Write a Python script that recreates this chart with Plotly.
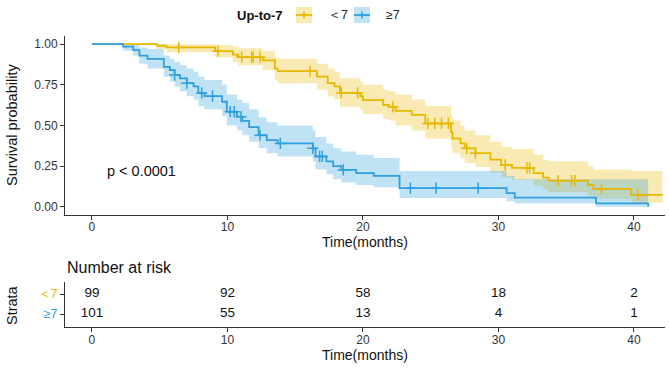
import plotly.graph_objects as go

W, H = 669, 368
FONT = "Liberation Sans, Arial, sans-serif"
YEL = "#E7B800"
BLU = "#2E9FDF"
YEL_FILL = "rgba(231,184,0,0.3)"
BLU_FILL = "rgba(46,159,223,0.3)"

# ---------------- data ----------------
group_labels = ["＜7", "≥7"]
legend_title = "Up-to-7"

# <7 group: step times, survival, CI upper, CI lower
yel_t  = [0, 4.8, 5.5, 9.1, 10.4, 10.8, 12.6, 13.5, 13.7, 16.6, 17.4, 17.9, 18.3, 19.8, 20.0, 21.5, 21.9, 22.4,
          23.6, 24.6, 26.5, 26.6, 27.2, 27.5, 28.3, 29.4, 30.2, 31.0, 32.6, 33.3, 33.7, 36.6, 37.0, 39.8, 42.1]
yel_s  = [1.0, 0.99, 0.98, 0.957, 0.935, 0.92, 0.90, 0.85, 0.834, 0.80, 0.76, 0.74, 0.70, 0.68, 0.656, 0.626, 0.615, 0.59,
          0.565, 0.513, 0.46, 0.42, 0.39, 0.36, 0.33, 0.29, 0.258, 0.24, 0.207, 0.18, 0.161, 0.135, 0.11, 0.074, 0.074]
yel_hi = [1.0, 1.0, 1.0, 0.995, 0.985, 0.975, 0.96, 0.92, 0.91, 0.88, 0.85, 0.83, 0.79, 0.77, 0.75, 0.72, 0.71, 0.69,
          0.66, 0.62, 0.565, 0.53, 0.50, 0.47, 0.44, 0.40, 0.37, 0.355, 0.32, 0.29, 0.28, 0.25, 0.23, 0.22, 0.22]
yel_lo = [1.0, 0.97, 0.95, 0.92, 0.89, 0.87, 0.84, 0.78, 0.76, 0.72, 0.68, 0.66, 0.615, 0.595, 0.57, 0.54, 0.53, 0.50,
          0.47, 0.42, 0.37, 0.33, 0.30, 0.27, 0.245, 0.21, 0.18, 0.165, 0.13, 0.11, 0.09, 0.07, 0.05, 0.025, 0.025]
yel_cens = [6.4, 9.3, 11.05, 11.8, 11.9, 12.4, 16.1, 18.4, 19.6, 22.2, 24.8, 25.3, 25.8, 26.3, 27.65, 28.3,
            30.5, 32.1, 32.3, 34.4, 35.4, 35.65, 37.6, 40.3]

# >=7 group
blu_t  = [0, 2.3, 3.05, 3.5, 4.1, 5.3, 5.75, 6.1, 6.5, 7.0, 7.5, 7.85, 8.3, 9.6, 9.95, 10.7, 11.1, 11.6, 12.3,
          12.9, 13.7, 16.3, 16.5, 17.3, 17.8, 18.4, 19.5, 20.8, 22.7, 30.6, 31.2, 37.2, 41.05]
blu_s  = [1.0, 0.985, 0.963, 0.93, 0.91, 0.86, 0.84, 0.81, 0.79, 0.76, 0.74, 0.70, 0.68, 0.646, 0.585, 0.554, 0.528,
          0.49, 0.44, 0.41, 0.39, 0.36, 0.31, 0.28, 0.25, 0.227, 0.207, 0.19, 0.115, 0.084, 0.057, 0.022, 0.0]
blu_hi = [1.0, 1.0, 1.0, 0.98, 0.97, 0.93, 0.91, 0.89, 0.87, 0.85, 0.83, 0.80, 0.78, 0.75, 0.69, 0.66, 0.64,
          0.60, 0.55, 0.52, 0.50, 0.47, 0.43, 0.39, 0.36, 0.34, 0.32, 0.30, 0.22, 0.19, 0.17, 0.17, 0.17]
blu_lo = [1.0, 0.96, 0.93, 0.88, 0.85, 0.80, 0.77, 0.74, 0.71, 0.68, 0.66, 0.62, 0.60, 0.56, 0.50, 0.47, 0.44,
          0.40, 0.36, 0.33, 0.31, 0.28, 0.23, 0.20, 0.17, 0.15, 0.135, 0.12, 0.055, 0.035, 0.02, 0.0, 0.0]
blu_cens = [6.1, 7.0, 8.1, 8.9, 10.2, 10.5, 11.0, 12.4, 13.9, 16.3, 16.8, 17.0, 18.55, 23.5, 25.4, 28.5]

risk_times = [0, 10, 20, 30, 40]
yel_risk = [99, 92, 58, 18, 2]
blu_risk = [101, 55, 13, 4, 1]

x_ticks = [0, 10, 20, 30, 40]
y_ticks = [0, 0.25, 0.5, 0.75, 1.0]
y_ticktext = ["0.00", "0.25", "0.50", "0.75", "1.00"]
p_text = "p < 0.0001"


def step_at(ts, ss, t):
    v = ss[0]
    for ti, si in zip(ts, ss):
        if ti <= t:
            v = si
    return v


def px(x):
    return x / W


def py(y):
    return 1 - y / H


fig = go.Figure()

for ts, ss, hi, lo, cens, col, fillc in [
    (yel_t, yel_s, yel_hi, yel_lo, yel_cens, YEL, YEL_FILL),
    (blu_t, blu_s, blu_hi, blu_lo, blu_cens, BLU, BLU_FILL),
]:
    fig.add_trace(go.Scatter(x=ts, y=lo, mode="lines", line=dict(width=0, shape="hv"),
                             showlegend=False, hoverinfo="skip", xaxis="x", yaxis="y"))
    fig.add_trace(go.Scatter(x=ts, y=hi, mode="lines", line=dict(width=0, shape="hv"),
                             fill="tonexty", fillcolor=fillc, showlegend=False, hoverinfo="skip",
                             xaxis="x", yaxis="y"))

for ts, ss, cens, col in [(yel_t, yel_s, yel_cens, YEL), (blu_t, blu_s, blu_cens, BLU)]:
    fig.add_trace(go.Scatter(x=ts, y=ss, mode="lines", line=dict(color=col, width=1.8, shape="hv"),
                             showlegend=False, xaxis="x", yaxis="y"))
    fig.add_trace(go.Scatter(x=cens, y=[step_at(ts, ss, c) for c in cens], mode="markers",
                             marker=dict(symbol="cross-thin", size=8, line=dict(color=col, width=1.5)),
                             showlegend=False, xaxis="x", yaxis="y"))

# risk table
fig.add_trace(go.Scatter(x=risk_times, y=[2] * len(risk_times), mode="text",
                         text=[str(v) for v in yel_risk], textfont=dict(family=FONT, size=13.5, color="#111"),
                         showlegend=False, xaxis="x2", yaxis="y2"))
fig.add_trace(go.Scatter(x=risk_times, y=[1] * len(risk_times), mode="text",
                         text=[str(v) for v in blu_risk], textfont=dict(family=FONT, size=13.5, color="#111"),
                         showlegend=False, xaxis="x2", yaxis="y2"))

xr = [-1.99, 42.29]
xdom = [px(65), px(665)]
axis_common = dict(showgrid=False, zeroline=False, showline=True, linecolor="#333", linewidth=1,
                   ticks="outside", ticklen=4, tickcolor="#333",
                   tickfont=dict(family=FONT, size=12, color="#333"))

fig.update_layout(
    width=W, height=H, margin=dict(l=0, r=0, t=0, b=0),
    paper_bgcolor="white", plot_bgcolor="white", showlegend=False,
    xaxis=dict(domain=xdom, range=xr, tickvals=x_ticks, anchor="y", ticklabelstandoff=-3, **axis_common),
    yaxis=dict(domain=[py(215), py(36)], range=[-0.05, 1.05], tickvals=y_ticks, ticktext=y_ticktext,
               anchor="x", **axis_common),
    xaxis2=dict(domain=xdom, range=xr, tickvals=x_ticks, anchor="y2", ticklabelstandoff=-3, **axis_common),
    yaxis2=dict(domain=[py(327.4), py(282)], range=[0.33, 2.6], tickvals=[1, 2],
                ticktext=[f"<span style='color:{BLU}'>{group_labels[1]}</span>",
                          f"<span style='color:{YEL}'>{group_labels[0]}</span>"],
                anchor="x2", **axis_common),
)
fig.update_yaxes(tickfont=dict(family=FONT, size=12.5, color="#333"), selector=dict(anchor="x2"))

ann = []
ann.append(dict(text="Survival probability", x=px(12), y=py(125), xref="paper", yref="paper",
                textangle=-90, showarrow=False, font=dict(family=FONT, size=14.5, color="#111"),
                xanchor="center", yanchor="middle"))
ann.append(dict(text="Time(months)", x=px(365), y=py(242), xref="paper", yref="paper",
                showarrow=False, font=dict(family=FONT, size=14, color="#111"),
                xanchor="center", yanchor="middle"))
ann.append(dict(text="Time(months)", x=px(365), y=py(355), xref="paper", yref="paper",
                showarrow=False, font=dict(family=FONT, size=14, color="#111"),
                xanchor="center", yanchor="middle"))
ann.append(dict(text="Strata", x=px(12), y=py(305), xref="paper", yref="paper", textangle=-90,
                showarrow=False, font=dict(family=FONT, size=14.5, color="#111"),
                xanchor="center", yanchor="middle"))
ann.append(dict(text="Number at risk", x=px(65), y=py(267), xref="paper", yref="paper",
                showarrow=False, font=dict(family=FONT, size=16, color="#111"),
                xanchor="left", yanchor="middle"))
ann.append(dict(text=p_text, x=0.95, y=0.22, xref="x", yref="y", showarrow=False,
                font=dict(family=FONT, size=14.5, color="#111"), xanchor="left", yanchor="middle"))
# legend
ann.append(dict(text=f"<b>{legend_title}</b>", x=px(235), y=py(15), xref="paper", yref="paper",
                showarrow=False, font=dict(family=FONT, size=13, color="#111"),
                xanchor="left", yanchor="middle"))
shapes = []
for (x0, col, fillc, label, lx) in [(296, YEL, YEL_FILL, group_labels[0], 326),
                                     (354, BLU, BLU_FILL, group_labels[1], 384)]:
    shapes.append(dict(type="rect", xref="paper", yref="paper", x0=px(x0), x1=px(x0 + 16),
                       y0=py(23), y1=py(7), fillcolor=fillc, line=dict(width=0)))
    shapes.append(dict(type="line", xref="paper", yref="paper", x0=px(x0), x1=px(x0 + 16),
                       y0=py(15), y1=py(15), line=dict(color=col, width=1.8)))
    shapes.append(dict(type="line", xref="paper", yref="paper", x0=px(x0 + 8), x1=px(x0 + 8),
                       y0=py(11.5), y1=py(18.5), line=dict(color=col, width=1.5)))
    ann.append(dict(text=label, x=px(lx), y=py(15), xref="paper", yref="paper", showarrow=False,
                    font=dict(family=FONT, size=12.5, color="#222"), xanchor="left", yanchor="middle"))

fig.update_layout(annotations=ann, shapes=shapes)
fig.write_html("out.html")
